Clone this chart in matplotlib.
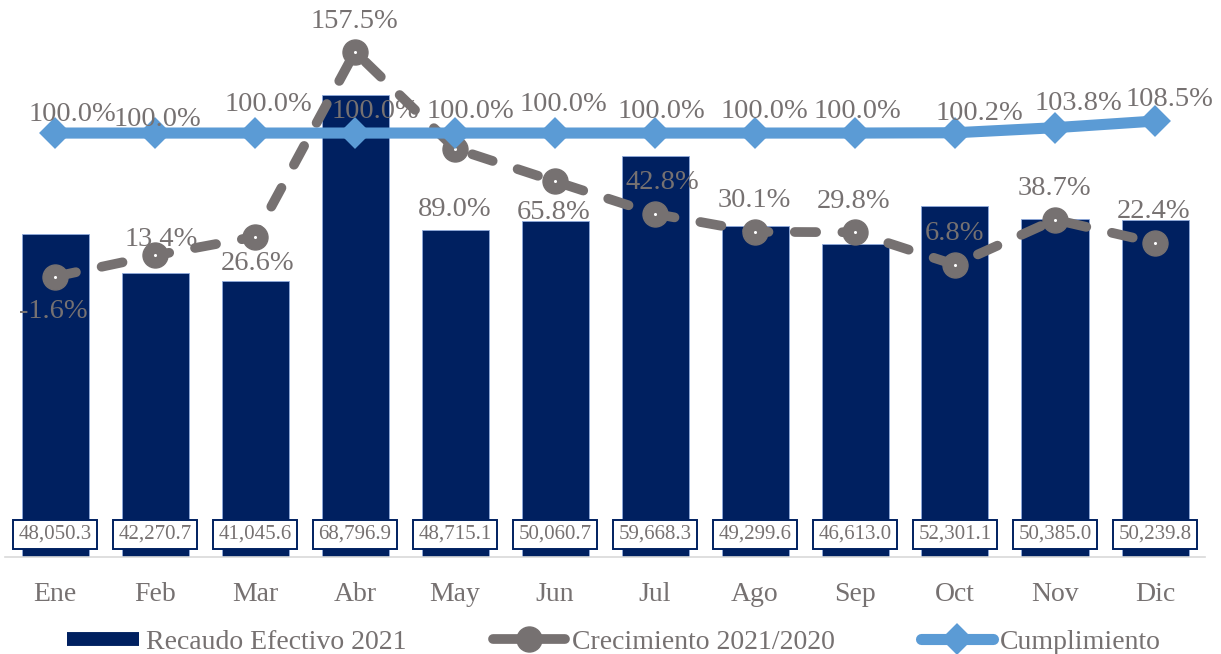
import matplotlib
matplotlib.use('Agg')
import matplotlib.pyplot as plt
from matplotlib.lines import Line2D
import numpy as np

# data
meses = ['Ene', 'Feb', 'Mar', 'Abr', 'May', 'Jun', 'Jul', 'Ago', 'Sep', 'Oct', 'Nov', 'Dic']
recaudo = [48050.3, 42270.7, 41045.6, 68796.9, 48715.1, 50060.7,
           59668.3, 49299.6, 46613.0, 52301.1, 50385.0, 50239.8]
crecimiento = [-1.6, 13.4, 26.6, 157.5, 89.0, 65.8, 42.8, 30.1, 29.8, 6.8, 38.7, 22.4]
cumplimiento = [100.0, 100.0, 100.0, 100.0, 100.0, 100.0, 100.0, 100.0, 100.0, 100.2, 103.8, 108.5]

# label offsets in pixels (dx, dy up), to mimic the Excel placement
off_crec = [(-2, -32), (6, 18), (3, -24), (-1, 33), (0, -58), (-1, -29),
            (7, 34), (-1, 34), (-1, 33), (-1, 34), (-1, 34), (-1, 34)]
off_cump = [(17, 21), (2, 16), (13, 31), (20, 24), (15, 24), (8, 31),
            (6, 24), (9, 24), (2, 24), (24, 22), (23, 27), (14, 24)]

navy = '#002060'
gris = '#767171'
azul = '#5B9BD5'
txt = '#767171'

plt.rcParams['font.family'] = ['Liberation Serif', 'DejaVu Serif']

W, H = 1221, 654
fig = plt.figure(figsize=(W / 100, H / 100), dpi=100)
ax = fig.add_axes([5 / W, (H - 557) / H, 1200 / W, 537 / H])
x = np.arange(len(meses))

ax.bar(x, recaudo, width=0.67, color=navy, edgecolor='#8FAADC', linewidth=0.6, zorder=2)
ax.set_xlim(-0.5, 11.5)
ax.set_ylim(0, 80000)
ax.set_yticks([])
ax.set_xticks(x)
ax.set_xticklabels(meses, fontsize=20, color=txt)
ax.tick_params(axis='x', length=0, pad=18)
for s in ['top', 'right', 'left']:
    ax.spines[s].set_visible(False)
ax.spines['bottom'].set_color('#D9D9D9')
ax.spines['bottom'].set_linewidth(1.2)

for i, v in enumerate(recaudo):
    ax.annotate('{:,.1f}'.format(v), xy=(i, 0), xytext=(0, 18),
                textcoords='offset pixels', ha='center', va='baseline',
                fontsize=15, color=txt, zorder=5,
                bbox=dict(boxstyle='square,pad=0.26', fc='white', ec=navy, lw=1.4))

ax2 = ax.twinx()
ax2.set_ylim(-200, 180)
ax2.set_yticks([])
for s in ax2.spines.values():
    s.set_visible(False)

l1, = ax2.plot(x, crecimiento, color=gris, lw=7, marker='o', ms=18,
               mfc=gris, mec=gris, zorder=3)
l1.set_dashes((2.2, 2.7))
l1.set_dash_capstyle('round')
ax2.plot(x, crecimiento, ls='none', marker='o', ms=1.2, color='white', zorder=3.1)

ax2.plot(x, cumplimiento, color=azul, lw=8, marker='D', ms=13, mfc=azul, mec=azul,
         mew=3, solid_capstyle='round', solid_joinstyle='round', zorder=4)

for i, v in enumerate(crecimiento):
    dx, dy = off_crec[i]
    ax2.annotate('{:.1f}%'.format(v), xy=(i, v), xytext=(dx, dy - 9),
                 textcoords='offset pixels', ha='center', va='baseline',
                 fontsize=20.5, color=txt, zorder=6)
for i, v in enumerate(cumplimiento):
    dx, dy = off_cump[i]
    ax2.annotate('{:.1f}%'.format(v), xy=(i, v), xytext=(dx, dy - 9),
                 textcoords='offset pixels', ha='center', va='baseline',
                 fontsize=20.5, color=txt, zorder=6)

handles = [
    Line2D([], [], color=navy, lw=10, solid_capstyle='butt'),
    Line2D([], [], color=gris, lw=7, marker='o', ms=18, solid_capstyle='round'),
    Line2D([], [], color=azul, lw=8, marker='D', ms=13, mew=3, solid_capstyle='round'),
]
labels = ['Recaudo Efectivo 2021', 'Crecimiento 2021/2020', 'Cumplimiento']
leg = fig.legend(handles, labels, loc='center', bbox_to_anchor=(614 / W, 1 - 642 / H),
                 ncol=3, frameon=False, fontsize=20, handlelength=2.6,
                 handletextpad=0.25, columnspacing=3.1, borderpad=0)
for t in leg.get_texts():
    t.set_color(txt)

plt.savefig('out.png', dpi=100)
